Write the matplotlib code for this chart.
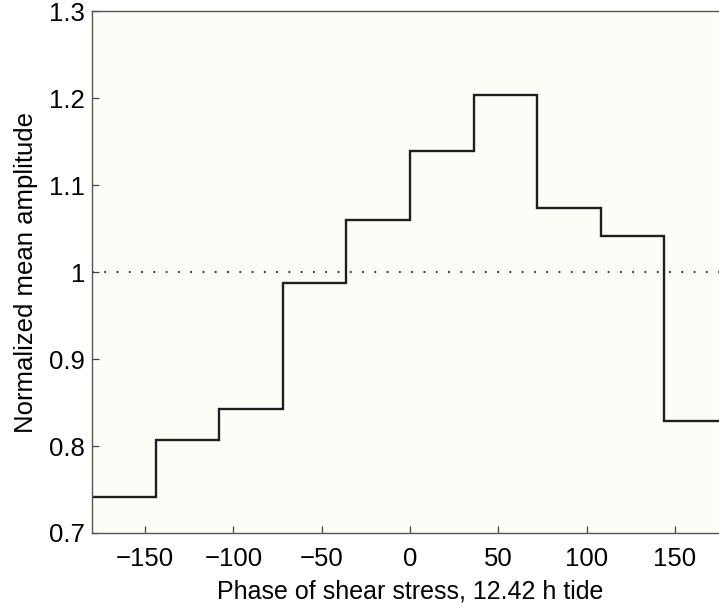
import numpy as np
import matplotlib.pyplot as plt

plt.rcParams['font.family'] = ['Liberation Sans', 'DejaVu Sans']

# bin edges of tidal phase (degrees) and normalized amplitude per bin
bin_edges = [-180, -144, -108, -72, -36, 0, 36, 72, 108, 144, 180]
amplitude = [0.741, 0.807, 0.842, 0.987, 1.060, 1.139, 1.204, 1.074, 1.041, 0.829]

fig = plt.figure(figsize=[7.19, 6.09], dpi=100)
fig.patch.set_facecolor("white")

# axes run a bit past the right edge of the figure, as in the reference
ax = fig.add_axes([0.128, 0.1248, 0.8846, 0.857])
ax.set_facecolor("#fdfdf8")

ax.stairs(amplitude, bin_edges, color="#1e1e1e", linewidth=1.7, baseline=None)
ax.axhline(1.0, color="#222222", linewidth=1.3, linestyle=(0, (1, 5.8)))

ax.set_xlim(-180, 180)
ax.set_ylim(0.7, 1.3)
ax.set_xticks([-150, -100, -50, 0, 50, 100, 150])
ax.set_xticklabels(["\u2212150", "\u2212100", "\u221250", "0", "50", "100", "150"])
ax.set_yticks([0.7, 0.8, 0.9, 1.0, 1.1, 1.2, 1.3])
ax.set_yticklabels(["0.7", "0.8", "0.9", "1", "1.1", "1.2", "1.3"])

ax.tick_params(direction="in", length=5, width=0.9, color="#444444",
               labelsize=18.5, top=False, right=False)
ax.tick_params(axis="x", pad=10)
ax.tick_params(axis="y", pad=5)
for s in ax.spines.values():
    s.set_color("#555555")
    s.set_linewidth(1.0)

ax.set_xlabel("Phase of shear stress, 12.42 h tide", fontsize=18, labelpad=6)
ax.set_ylabel("Normalized mean amplitude", fontsize=18.5, labelpad=8)

fig.savefig("out.png", dpi=100)
